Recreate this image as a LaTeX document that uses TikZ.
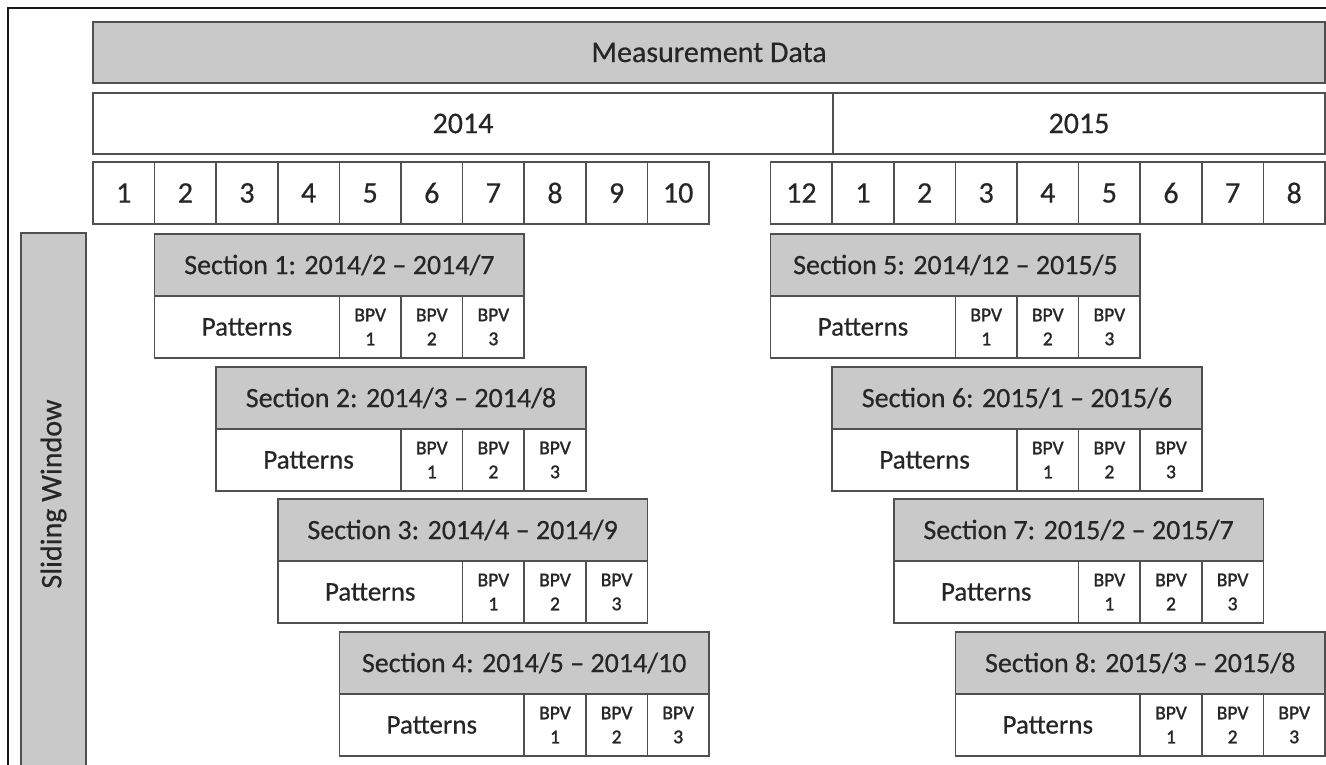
\documentclass[tikz,border=0pt]{standalone}
\usepackage{fontspec}
\setmainfont{Carlito}[FakeBold=0.5]
\newfontfamily\smallheavy{Carlito}[FakeBold=1.4]
\definecolor{edgecol}{RGB}{80,80,80}
\definecolor{shade}{RGB}{201,201,201}
\definecolor{ink}{RGB}{38,38,38}
\begin{document}
\begin{tikzpicture}[x=1pt,y=-1pt,
  box/.style={draw=edgecol, line width=1.6pt, rectangle, inner sep=0pt, text=ink},
  shaded/.style={box, fill=shade},
  plain/.style={box, fill=white},
  bigtxt/.style={font=\fontsize{30}{36}\selectfont},
  sectxt/.style={font=\fontsize{28}{34}\selectfont},
  pattxt/.style={font=\fontsize{27}{32}\selectfont},
  bpvtxt/.style={font=\smallheavy\fontsize{19.5}{24}\selectfont, align=center}]
\useasboundingbox (0,0) rectangle (1326,765);
\fill[white] (0,0) rectangle (1326,765);

% outer frame (left and top edges)
\draw[black!90, line width=2pt] (8,775) -- (8,8) -- (1336,8);

\def\colw{61.6}
\def\xo{93}

% top bars
\node[shaded, bigtxt, minimum width=1232pt, minimum height=61pt] (meas) at (709,52.5) {Measurement Data};
\node[plain, bigtxt, minimum width=740pt, minimum height=61pt] (y2014) at (463,123.5) {2014};
\node[plain, bigtxt, minimum width=492pt, minimum height=61pt] (y2015) at (1079,123.5) {2015};

% month cells
\foreach \i/\m in {0/1,1/2,2/3,3/4,4/5,5/6,6/7,7/8,8/9,9/10,11/12,12/1,13/2,14/3,15/4,16/5,17/6,18/7,19/8}{
  \pgfmathsetmacro{\cx}{\xo+(\i+0.5)*\colw}
  \node[plain, bigtxt, minimum width=\colw pt, minimum height=62pt] (mon\i) at (\cx,193) {\m};
}

% sliding window bar
\node[shaded, minimum width=65pt, minimum height=542pt] (swbar) at (53.5,504) {};
\node[text=ink, bigtxt, rotate=90] (swlabel) at (53.5,494) {Sliding Window};

% sections: number / start column / top / label
\foreach \s/\c/\t/\lab in {
  1/1/234/{Section 1: 2014/2 – 2014/7},
  2/2/367/{Section 2: 2014/3 – 2014/8},
  3/3/499/{Section 3: 2014/4 – 2014/9},
  4/4/632/{Section 4: 2014/5 – 2014/10},
  5/11/234/{Section 5: 2014/12 – 2015/5},
  6/12/367/{Section 6: 2015/1 – 2015/6},
  7/13/499/{Section 7: 2015/2 – 2015/7},
  8/14/632/{Section 8: 2015/3 – 2015/8}}{
  \pgfmathsetmacro{\hx}{\xo+(\c+3)*\colw}
  \pgfmathsetmacro{\px}{\xo+(\c+1.5)*\colw}
  \pgfmathsetmacro{\hy}{\t+31}
  \pgfmathsetmacro{\ry}{\t+93}
  \node[shaded, sectxt, minimum width=6*\colw pt, minimum height=62pt] (sec\s) at (\hx,\hy) {\lab};
  \node[plain, pattxt, minimum width=3*\colw pt, minimum height=62pt] (pat\s) at (\px,\ry) {Patterns};
  \foreach \k in {1,2,3}{
    \pgfmathsetmacro{\bx}{\xo+(\c+2.5+\k)*\colw}
    \node[plain, bpvtxt, minimum width=\colw pt, minimum height=62pt] (bpv\s-\k) at (\bx,\ry) {BPV\\\k};
  }
}
\end{tikzpicture}
\end{document}
